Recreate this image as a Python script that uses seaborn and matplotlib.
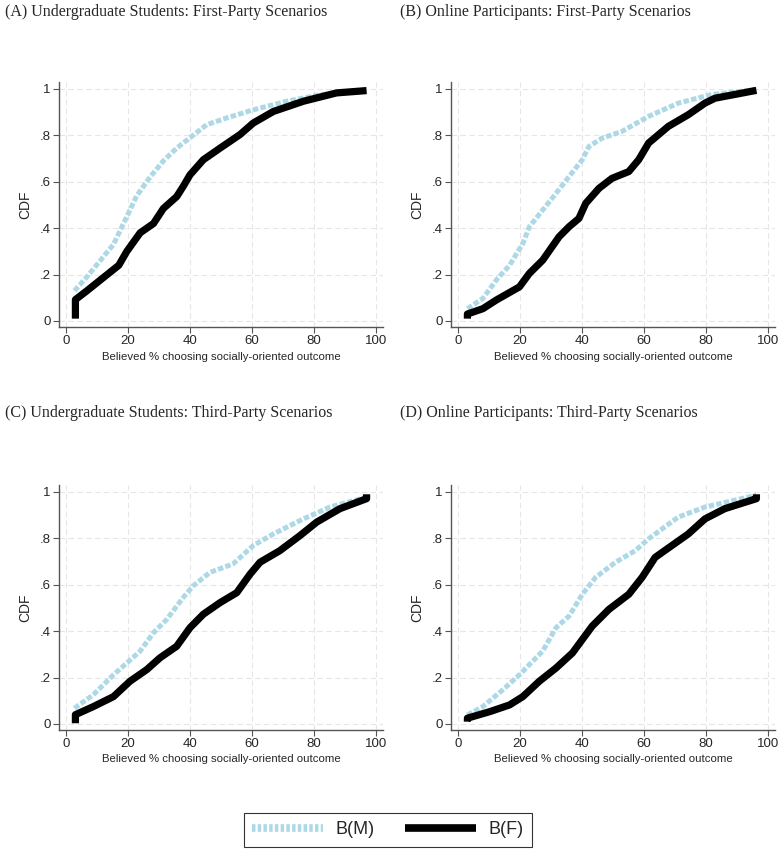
import matplotlib
matplotlib.use("Agg")
from matplotlib import pyplot as plt
from matplotlib.lines import Line2D
import seaborn as sns
import pandas as pd

# (A) Undergraduate, first-party
a_m_x = [2.7, 6.7, 11, 15.3, 19.6, 22.8, 27.1, 31.4, 35.7, 40, 45.4, 51.8, 60.4, 71.2, 82, 97]
a_m_y = [0.13, 0.19, 0.26, 0.33, 0.45, 0.54, 0.62, 0.69, 0.745, 0.79, 0.846, 0.875, 0.91, 0.947, 0.975, 0.994]
a_f_x = [3, 3, 6.7, 11, 17, 19.6, 23.9, 28.2, 31.4, 35.7, 37.8, 40, 44.3, 49.7, 56.1, 60.4, 66.9, 76.6, 87.3, 97]
a_f_y = [0.01, 0.092, 0.13, 0.176, 0.24, 0.3, 0.38, 0.42, 0.485, 0.536, 0.58, 0.63, 0.695, 0.745, 0.803, 0.853, 0.903, 0.947, 0.983, 0.993]

# (B) Online, first-party
b_m_x = [3, 8, 12.3, 16.6, 20.9, 23, 27.3, 31.6, 35.8, 40.1, 42.2, 46.5, 52.9, 61.5, 71.1, 81.8, 96.3]
b_m_y = [0.053, 0.097, 0.176, 0.24, 0.334, 0.406, 0.478, 0.55, 0.622, 0.695, 0.752, 0.788, 0.817, 0.882, 0.939, 0.976, 0.997]
b_f_x = [3, 3, 8, 12.3, 19.8, 23, 27.3, 32.6, 35.8, 39, 41.2, 45.5, 49.7, 55.1, 58.3, 61.5, 67.9, 74.3, 79.7, 82.9, 96.3]
b_f_y = [0.01, 0.03, 0.053, 0.09, 0.147, 0.205, 0.262, 0.363, 0.406, 0.442, 0.507, 0.572, 0.615, 0.644, 0.695, 0.767, 0.839, 0.889, 0.939, 0.96, 0.994]

# (C) Undergraduate, third-party
c_m_x = [2.7, 8.8, 15.3, 19.6, 23.9, 28.2, 32.5, 37.8, 41, 46.4, 53.9, 60.4, 66.9, 76.6, 85.2, 97]
c_m_y = [0.068, 0.126, 0.212, 0.263, 0.314, 0.393, 0.451, 0.545, 0.595, 0.653, 0.69, 0.769, 0.819, 0.884, 0.935, 0.978]
c_f_x = [3, 3, 8.8, 15.3, 20.6, 26, 30.3, 35.7, 40, 44.3, 49.7, 55.1, 59.4, 62.6, 69, 75.5, 80.9, 88.4, 97, 97]
c_f_y = [0.003, 0.04, 0.075, 0.118, 0.184, 0.234, 0.285, 0.335, 0.415, 0.473, 0.523, 0.566, 0.646, 0.697, 0.747, 0.812, 0.87, 0.928, 0.971, 0.99]

# (D) Online, third-party
d_m_x = [3, 8, 14.4, 19.8, 23, 27.3, 31.6, 35.8, 40.1, 44.4, 50.8, 57.2, 61.5, 71.1, 79.7, 96.3]
d_m_y = [0.039, 0.075, 0.147, 0.212, 0.256, 0.314, 0.415, 0.465, 0.559, 0.632, 0.697, 0.747, 0.798, 0.892, 0.935, 0.986]
d_f_x = [3, 3, 10.2, 16.6, 20.9, 26.2, 31.6, 36.9, 40.1, 43.3, 48.7, 55.1, 59.4, 63.6, 69, 74.3, 79.7, 86.1, 96.3, 96.3]
d_f_y = [0.01, 0.025, 0.053, 0.082, 0.118, 0.184, 0.241, 0.306, 0.364, 0.422, 0.494, 0.559, 0.632, 0.718, 0.769, 0.819, 0.884, 0.928, 0.971, 0.99]

titles = ["(A) Undergraduate Students: First-Party Scenarios",
          "(B) Online Participants: First-Party Scenarios",
          "(C) Undergraduate Students: Third-Party Scenarios",
          "(D) Online Participants: Third-Party Scenarios"]
panels = [(a_m_x, a_m_y, a_f_x, a_f_y), (b_m_x, b_m_y, b_f_x, b_f_y),
          (c_m_x, c_m_y, c_f_x, c_f_y), (d_m_x, d_m_y, d_f_x, d_f_y)]
xticks = [0, 20, 40, 60, 80, 100]
yticks = [0, 0.2, 0.4, 0.6, 0.8, 1]
ytick_labels = ["0", ".2", ".4", ".6", ".8", "1"]
series_names = ["B(M)", "B(F)"]

sns.set_style("white")
plt.rcParams['font.family'] = ['Liberation Sans', 'DejaVu Sans']

W, H = 781, 849
fig = plt.figure(figsize=(7.81, 8.49), dpi=100)

light = "#add8e6"
m_style = (0, (1.1, 0.45))
# pixel boxes: left, top, right, bottom
boxes = [(59, 82, 383, 327), (451, 82, 775, 327), (59, 485, 383, 730), (451, 485, 775, 730)]
title_pos = [(5, 12), (400, 12), (5, 413), (400, 413)]

for i, (mx, my, fx, fy) in enumerate(panels):
    l, t, r, b = boxes[i]
    ax = fig.add_axes([l / W, 1 - b / H, (r - l) / W, (b - t) / H])
    sns.lineplot(x=mx, y=my, color=light, lw=3.6, linestyle=m_style, sort=False,
                 estimator=None, ax=ax, solid_capstyle="butt", dash_capstyle="butt")
    sns.lineplot(x=fx, y=fy, color="black", lw=5.2, sort=False, estimator=None, ax=ax,
                 solid_capstyle="butt")
    ax.set_xlim(-2.3, 102.3)
    ax.set_ylim(-0.026, 1.03)
    ax.set_xticks(xticks)
    ax.set_yticks(yticks)
    ax.set_yticklabels(ytick_labels)
    ax.tick_params(axis="both", labelsize=9.5, length=4, width=0.8, color="#555555",
                   direction="out", left=True, bottom=True, pad=2)
    for s in ["top", "right"]:
        ax.spines[s].set_visible(False)
    for s in ["left", "bottom"]:
        ax.spines[s].set_color("#555555")
        ax.spines[s].set_linewidth(1.0)
    ax.grid(True, linestyle=(0, (5, 3)), color="#e6e6e6", linewidth=0.8)
    ax.set_axisbelow(True)
    ax.set_xlabel("Believed % choosing socially-oriented outcome", fontsize=8.2, labelpad=3)
    ax.set_ylabel("CDF", fontsize=10, labelpad=5)
    fig.text(title_pos[i][0] / W, 1 - title_pos[i][1] / H, titles[i], ha="left", va="center",
             fontsize=11.5, family="Liberation Serif")

handles = [Line2D([], [], color=light, lw=5.5, linestyle=(0, (0.45, 0.3)), dash_capstyle="butt"),
           Line2D([], [], color="black", lw=5.5, solid_capstyle="butt")]
leg = fig.legend(handles, series_names, loc="center", bbox_to_anchor=(388 / W, 1 - 830 / H),
                 ncol=2, fontsize=13, frameon=True, fancybox=False, handlelength=3.9,
                 columnspacing=1.7, handletextpad=0.7, borderpad=0.45, borderaxespad=0,
                 edgecolor="black")
leg.get_frame().set_linewidth(0.8)

fig.savefig("out.png", dpi=100, facecolor="white")
